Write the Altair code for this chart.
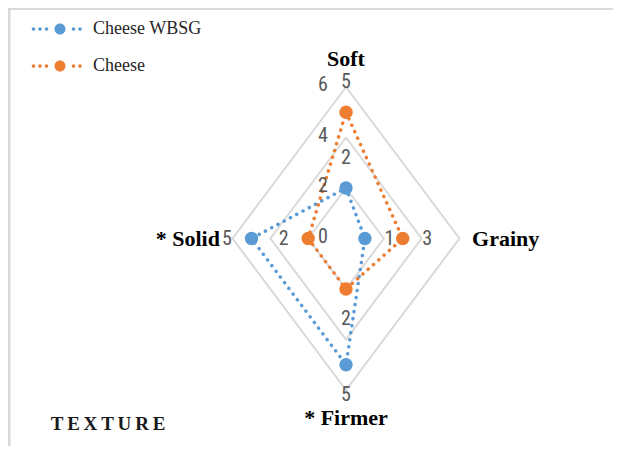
import math
import altair as alt
import pandas as pd

# ---------------- data ----------------
axes = ["Soft", "Grainy", "* Firmer", "* Solid"]
angles_deg = [0, 90, 180, 270]          # clockwise from the top
series = ["Cheese WBSG", "Cheese"]
wbsg = [2, 1, 5, 5]
cheese = [5, 3, 2, 2]
grid_levels = [2, 4, 6]
tick_values = [0, 2, 4, 6]
tick_labels = ["0", "2", "4", "6"]
colors = ["#5b9bd5", "#ed7d31"]

# ---------------- layout constants ----------------
W, H = 605, 438
CX, CY = 338, 230.5        # centre of the radar, chart pixels
UX, UY = 18.9, 25.25       # pixels per unit horizontally / vertically
XDOM = [-CX / UX, (W - CX) / UX]
YDOM = [-(H - CY) / UY, CY / UY]

xs = alt.Scale(domain=XDOM, nice=False, zero=False)
ys = alt.Scale(domain=YDOM, nice=False, zero=False)


def X(f):
    return alt.X(f + ":Q", scale=xs, axis=None)


def Y(f):
    return alt.Y(f + ":Q", scale=ys, axis=None)


def sc(a):
    r = math.radians(a)
    return math.sin(r), math.cos(r)


# series points
rows = []
for s, vals in zip(series, [wbsg, cheese]):
    for i, (ax, a, v) in enumerate(zip(axes, angles_deg, vals)):
        sn, cs = sc(a)
        rows.append(dict(series=s, axis=ax, value=v, order=i,
                         x=v * sn, y=v * cs,
                         lx=(v + 1.3) * sn, ly=(v + 1.18) * cs,
                         label=str(v)))
pts = pd.DataFrame(rows)
closing = pts[pts["order"] == 0].copy()
closing["order"] = len(axes)
lines = pd.concat([pts, closing], ignore_index=True)

# grid diamonds
grows = []
for lv in grid_levels:
    for i, a in enumerate(angles_deg + [angles_deg[0]]):
        sn, cs = sc(a)
        grows.append(dict(level=lv, order=i, x=lv * sn, y=lv * cs))
grid = pd.DataFrame(grows)

# tick labels along the Soft axis
ticks = pd.DataFrame(dict(x=[0] * len(tick_values), y=tick_values, t=tick_labels))

# axis titles
trows = []
for ax, a in zip(axes, angles_deg):
    sn, cs = sc(a)
    if a in (0, 180):
        trows.append(dict(t=ax, x=0.0, y=7.1 * cs, al="center"))
    else:
        trows.append(dict(t=ax, x=6.67 * sn, y=0.0, al="left" if sn > 0 else "right"))
titles = pd.DataFrame(trows)

color_scale = alt.Scale(domain=series, range=colors)


def circ(c, r):
    return f"M{c - r:.2f},0A{r},{r},0,1,0,{c + r:.2f},0A{r},{r},0,1,0,{c - r:.2f},0Z"


LEG_PATH = "".join(circ(c, 0.36) for c in [-5.3, -4.0, -2.7, 2.7, 4.0]) + circ(0, 1.1)

legend = alt.Legend(
    title=None, orient="none", legendX=43, legendY=12, padding=0,
    symbolType=LEG_PATH, symbolSize=100, symbolStrokeWidth=0, symbolOpacity=1,
    labelFont="Liberation Serif", labelFontSize=18, labelColor="#262626",
    labelOffset=24, rowPadding=19)

# ---------------- layers ----------------
frame_top = alt.Chart(pd.DataFrame({"k": [0]})).mark_rule(color="#d9d9d9", strokeWidth=2).encode(
    x=alt.value(0), x2=alt.value(W), y=alt.value(1))
frame_left = alt.Chart(pd.DataFrame({"k": [0]})).mark_rule(color="#d9d9d9", strokeWidth=3).encode(
    x=alt.value(1), y=alt.value(0), y2=alt.value(H))

grid_layer = alt.Chart(grid).mark_line(color="#d9d9d9", strokeWidth=2).encode(
    x=X("x"), y=Y("y"), detail="level:N", order="order:Q")

line_layer = alt.Chart(lines).mark_line(strokeWidth=3.5, strokeDash=[0.1, 7], strokeCap="round").encode(
    x=X("x"), y=Y("y"),
    stroke=alt.Stroke("series:N", scale=color_scale, legend=legend),
    detail="series:N", order="order:Q")

point_layer = alt.Chart(pts).mark_point(filled=True, size=180, opacity=1).encode(
    x=X("x"), y=Y("y"),
    fill=alt.Fill("series:N", scale=color_scale, legend=legend))

LABEL_FONT = "Liberation Sans Narrow, Roboto Condensed, Liberation Sans, sans-serif"

data_labels = alt.Chart(pts).mark_text(font=LABEL_FONT, fontSize=20, color="#595959").encode(
    x=X("lx"), y=Y("ly"), text="label:N")

tick_layer = alt.Chart(ticks).mark_text(font=LABEL_FONT, fontSize=20, color="#595959", dx=-23, dy=-2).encode(
    x=X("x"), y=Y("y"), text="t:N")


def title_layer(al):
    return alt.Chart(titles).transform_filter(alt.datum.al == al).mark_text(
        font="Liberation Serif", fontWeight="bold", fontSize=22, color="#000000", align=al
    ).encode(x=X("x"), y=Y("y"), text="t:N")


texture = alt.Chart(pd.DataFrame({"t": ["T\u2009E\u2009X\u2009T\u2009U\u2009R\u2009E"]})).mark_text(
    font="Liberation Serif", fontWeight="bold", fontSize=19, color="#1a1a1a", align="center"
).encode(x=alt.value(100), y=alt.value(416), text="t:N")

chart = alt.layer(
    frame_top, frame_left, grid_layer, line_layer, point_layer,
    data_labels, tick_layer,
    title_layer("center"), title_layer("left"), title_layer("right"), texture
).properties(
    width=W, height=H, padding=0,
    autosize=alt.AutoSizeParams(type="none"),
    background="white",
).configure_view(stroke=None)

chart.save("out.html", embed_options={"renderer": "svg", "actions": False})
